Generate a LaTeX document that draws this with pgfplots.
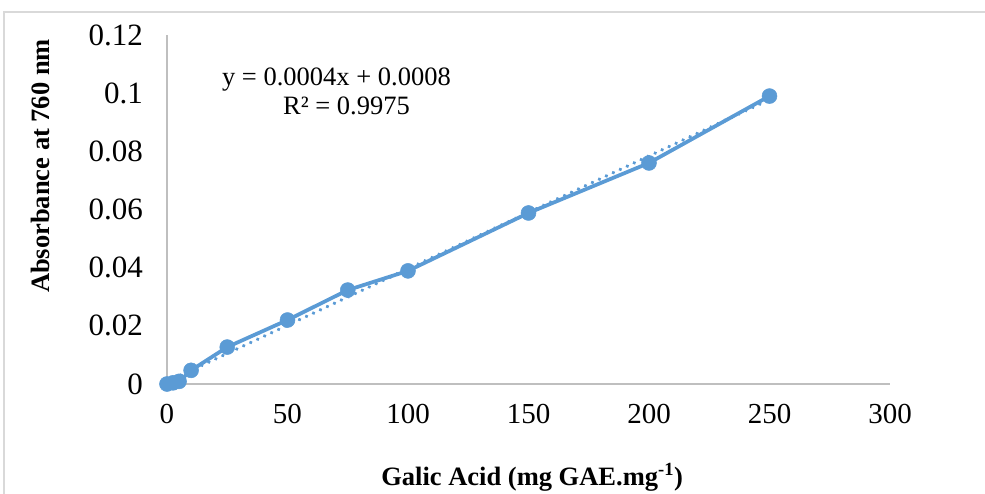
\documentclass[border=0pt]{standalone}
\usepackage{fontspec}
\setmainfont{Liberation Serif}
\usepackage{pgfplots}
\pgfplotsset{compat=1.18}
\definecolor{ser}{HTML}{5B9BD5}
\begin{document}
\begin{tikzpicture}[x=1pt,y=1pt]
\useasboundingbox (-167,-109) rectangle (818,384);
\draw[color=black!15, line width=1.5pt] (-163,-140) rectangle (850,372);
\begin{axis}[
  at={(0,0)}, anchor=south west, scale only axis,
  width=723pt, height=349pt,
  xmin=0, xmax=300, ymin=0, ymax=0.12,
  axis lines=left,
  axis line style={draw=black!25, line width=1.5pt, -},
  xtick={0,50,100,150,200,250,300},
  ytick={0,0.02,0.04,0.06,0.08,0.1,0.12},
  yticklabels={0,0.02,0.04,0.06,0.08,0.1,0.12},
  major tick length=0pt,
  tick style={draw=none},
  /pgf/number format/assume math mode=true,
  xticklabel style={font=\fontsize{29}{31}\selectfont, anchor=north, inner sep=0pt, yshift=-20pt},
  yticklabel style={font=\fontsize{31}{33}\selectfont, anchor=east, inner sep=0pt, xshift=-24pt},
  xlabel={Galic Acid (mg GAE.mg\textsuperscript{-1})},
  ylabel={Absorbance at 760 nm},
  label style={font=\bfseries\fontsize{26.5}{28}\selectfont},
  xlabel style={at={(axis description cs:0.505,-0.2894)}, anchor=base, inner sep=0pt},
  ylabel style={at={(axis description cs:-0.1757,0.6246)}, anchor=center, inner sep=0pt},
  clip=false,
]
\addplot[color=ser, line width=3.75pt, mark=*, mark size=7.5pt,
  mark options={fill=ser, draw=ser, line width=0.5pt, solid}]
  coordinates {(0,0) (2.5,0.0004) (5,0.0009) (10,0.0047) (25,0.0127) (50,0.022)
  (75,0.0323) (100,0.0389) (150,0.0588) (200,0.076) (250,0.099)};
\addplot[color=ser, line width=3.75pt, line cap=round, dash pattern=on 0.1pt off 7.6pt]
  coordinates {(0,0.0008) (250,0.0978)};
\node[anchor=base west, inner sep=0pt, font=\fontsize{26.5}{28}\selectfont]
  at (axis cs:22.8,0.1028) {y = 0.0004x + 0.0008};
\node[anchor=base west, inner sep=0pt, font=\fontsize{26.5}{28}\selectfont]
  at (axis cs:48.1,0.0925) {R² = 0.9975};
\end{axis}
\end{tikzpicture}
\end{document}
